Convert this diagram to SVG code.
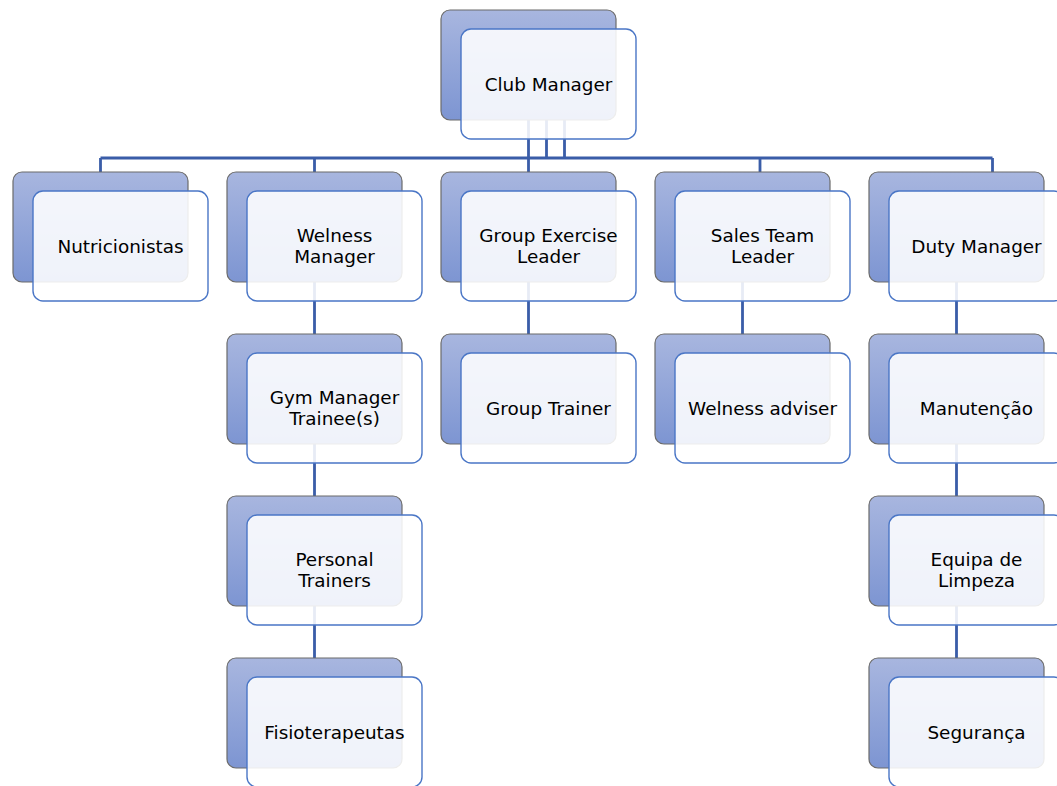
<svg xmlns="http://www.w3.org/2000/svg" width="1057" height="786" viewBox="0 0 1057 786">
<defs>
<linearGradient id="bg" x1="0" y1="0" x2="0" y2="1">
<stop offset="0" stop-color="#A8B6DF"/>
<stop offset="1" stop-color="#7D95D2"/>
</linearGradient>
<style>
.back{fill:url(#bg);stroke:#6B6B6B;stroke-width:1.2}
.front{fill:#FFFFFF;fill-opacity:0.88;stroke:#4A76C6;stroke-width:1.4}
.t{font-family:"DejaVu Sans","Liberation Sans",sans-serif;font-size:18.4px;fill:#000;text-anchor:middle}
.c{fill:none;stroke:#3A5DA8;stroke-width:2.8}
</style>
</defs>
<rect width="1057" height="786" fill="#FFFFFF"/>
<g id="connectors">
<path class="c" d="M528.5 120V172 M546.5 120V158 M564.5 120V158 M100.5 158H992.5 M100.5 158V172 M314.5 158V172 M760 158V172 M992.5 158V172"/>
<path class="c" d="M314.5 282V334 M314.5 444V496 M314.5 606V658 M528.5 282V334 M742.5 282V334 M956.5 282V334 M956.5 444V496 M956.5 606V658"/>
</g>
<g id="club-manager">
<rect class="back" x="441" y="10" width="175" height="110" rx="9"/>
<rect class="front" x="461" y="29" width="175" height="110" rx="10"/>
<text class="t" x="548.5" y="90.7">Club Manager</text>
</g>
<g id="nutricionistas">
<rect class="back" x="13" y="172" width="175" height="110" rx="9"/>
<rect class="front" x="33" y="191" width="175" height="110" rx="10"/>
<text class="t" x="120.5" y="252.7">Nutricionistas</text>
</g>
<g id="welness-manager">
<rect class="back" x="227" y="172" width="175" height="110" rx="9"/>
<rect class="front" x="247" y="191" width="175" height="110" rx="10"/>
<text class="t" x="334.5" y="241.7">Welness</text>
<text class="t" x="334.5" y="262.7">Manager</text>
</g>
<g id="group-exercise-leader">
<rect class="back" x="441" y="172" width="175" height="110" rx="9"/>
<rect class="front" x="461" y="191" width="175" height="110" rx="10"/>
<text class="t" x="548.5" y="241.7">Group Exercise</text>
<text class="t" x="548.5" y="262.7">Leader</text>
</g>
<g id="sales-team-leader">
<rect class="back" x="655" y="172" width="175" height="110" rx="9"/>
<rect class="front" x="675" y="191" width="175" height="110" rx="10"/>
<text class="t" x="762.5" y="241.7">Sales Team</text>
<text class="t" x="762.5" y="262.7">Leader</text>
</g>
<g id="duty-manager">
<rect class="back" x="869" y="172" width="175" height="110" rx="9"/>
<rect class="front" x="889" y="191" width="175" height="110" rx="10"/>
<text class="t" x="976.5" y="252.7">Duty Manager</text>
</g>
<g id="gym-manager-trainees">
<rect class="back" x="227" y="334" width="175" height="110" rx="9"/>
<rect class="front" x="247" y="353" width="175" height="110" rx="10"/>
<text class="t" x="334.5" y="403.7">Gym Manager</text>
<text class="t" x="334.5" y="424.7">Trainee(s)</text>
</g>
<g id="group-trainer">
<rect class="back" x="441" y="334" width="175" height="110" rx="9"/>
<rect class="front" x="461" y="353" width="175" height="110" rx="10"/>
<text class="t" x="548.5" y="414.7">Group Trainer</text>
</g>
<g id="welness-adviser">
<rect class="back" x="655" y="334" width="175" height="110" rx="9"/>
<rect class="front" x="675" y="353" width="175" height="110" rx="10"/>
<text class="t" x="762.5" y="414.7">Welness adviser</text>
</g>
<g id="manutencao">
<rect class="back" x="869" y="334" width="175" height="110" rx="9"/>
<rect class="front" x="889" y="353" width="175" height="110" rx="10"/>
<text class="t" x="976.5" y="414.7">Manutenção</text>
</g>
<g id="personal-trainers">
<rect class="back" x="227" y="496" width="175" height="110" rx="9"/>
<rect class="front" x="247" y="515" width="175" height="110" rx="10"/>
<text class="t" x="334.5" y="565.7">Personal</text>
<text class="t" x="334.5" y="586.7">Trainers</text>
</g>
<g id="equipa-de-limpeza">
<rect class="back" x="869" y="496" width="175" height="110" rx="9"/>
<rect class="front" x="889" y="515" width="175" height="110" rx="10"/>
<text class="t" x="976.5" y="565.7">Equipa de</text>
<text class="t" x="976.5" y="586.7">Limpeza</text>
</g>
<g id="fisioterapeutas">
<rect class="back" x="227" y="658" width="175" height="110" rx="9"/>
<rect class="front" x="247" y="677" width="175" height="110" rx="10"/>
<text class="t" x="334.5" y="738.7">Fisioterapeutas</text>
</g>
<g id="seguranca">
<rect class="back" x="869" y="658" width="175" height="110" rx="9"/>
<rect class="front" x="889" y="677" width="175" height="110" rx="10"/>
<text class="t" x="976.5" y="738.7">Segurança</text>
</g>
</svg>
